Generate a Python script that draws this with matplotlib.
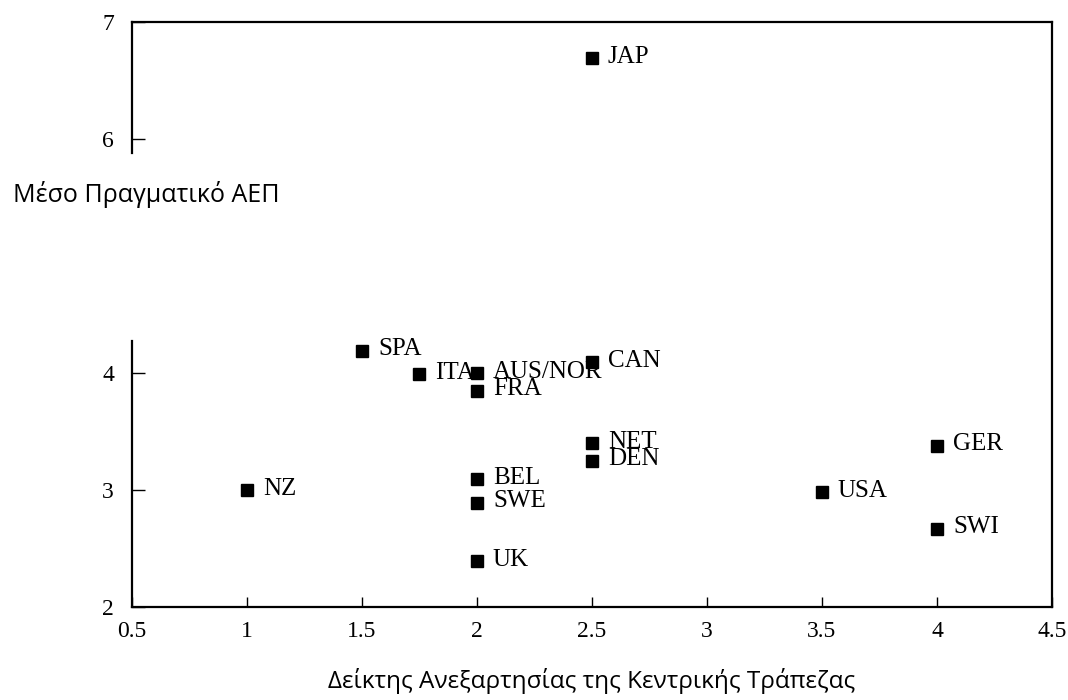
import matplotlib
matplotlib.use("Agg")
import matplotlib.pyplot as plt

# Central bank independence index vs. average real GDP growth
countries = ["JAP", "SPA", "ITA", "AUS/NOR", "FRA", "CAN", "NET", "DEN",
             "BEL", "SWE", "UK", "NZ", "USA", "GER", "SWI"]
independence = [2.5, 1.5, 1.75, 2.0, 2.0, 2.5, 2.5, 2.5,
                2.0, 2.0, 2.0, 1.0, 3.5, 4.0, 4.0]
gdp_growth = [6.69, 4.19, 3.99, 4.0, 3.85, 4.09, 3.40, 3.25,
              3.09, 2.89, 2.39, 3.0, 2.98, 3.38, 2.67]

x_ticks = [0.5, 1, 1.5, 2, 2.5, 3, 3.5, 4, 4.5]
x_tick_labels = ["0.5", "1", "1.5", "2", "2.5", "3", "3.5", "4", "4.5"]
y_ticks = [2, 3, 4, 6, 7]
y_tick_labels = ["2", "3", "4", "6", "7"]

x_label = "Δείκτης Ανεξαρτησίας της Κεντρικής Τράπεζας"
y_label = "Μέσο Πραγματικό ΑΕΠ"

serif = ["Liberation Serif", "DejaVu Serif"]
sans = ["Open Sans", "Noto Sans", "DejaVu Sans"]

fig = plt.figure(figsize=(10.68, 7.0), dpi=100)
ax = fig.add_axes([0.1236, 0.1329, 0.8614, 0.8357])

ax.plot(independence, gdp_growth, linestyle="none", marker="s",
        markersize=9, color="black")

for name, xv, yv in zip(countries, independence, gdp_growth):
    ax.annotate(name, (xv, yv), xytext=(11.5, 1), textcoords="offset points",
                ha="left", va="center", fontsize=18, family=serif,
                color="black")

ax.set_xlim(0.5, 4.5)
ax.set_ylim(2, 7)
ax.set_xticks(x_ticks)
ax.set_xticklabels(x_tick_labels, family=serif, fontsize=17)
ax.set_yticks(y_ticks)
ax.set_yticklabels(y_tick_labels, family=serif, fontsize=17)
ax.tick_params(axis="x", direction="in", length=7, width=1, pad=10)
ax.tick_params(axis="y", direction="in", length=9, width=1, pad=13)

for side in ["top", "right", "bottom", "left"]:
    ax.spines[side].set_linewidth(1.6)
    ax.spines[side].set_color("black")

# left axis line is interrupted where the axis title sits
gap_low, gap_high = 4.27, 5.88
ax.spines["left"].set_bounds(2, gap_low)
ax.axvline(0.5, ymin=(gap_high - 2) / 5, ymax=1, color="black",
           linewidth=1.6, clip_on=False)

fig.text(13 / 1068, 1 - 195 / 700, y_label, ha="left", va="center",
         fontsize=18, family=sans)
fig.text(592 / 1068, 1 - 681 / 700, x_label, ha="center", va="center",
         fontsize=17.5, family=sans)

fig.savefig("out.png", dpi=100, facecolor="white")
